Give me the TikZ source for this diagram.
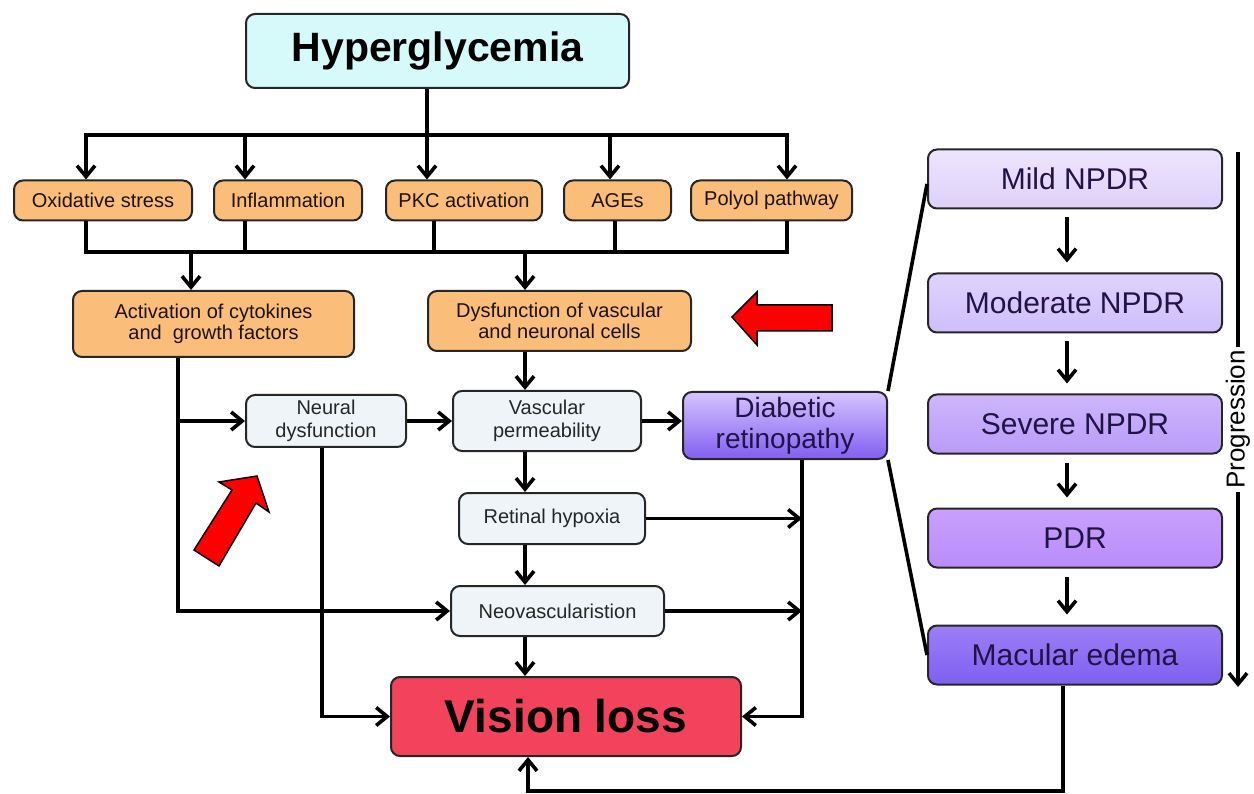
\documentclass[tikz,border=0pt]{standalone}
\usepackage{fontspec}
\setmainfont{Liberation Sans}
\usetikzlibrary{arrows.meta}
\definecolor{orangebox}{RGB}{250,190,122}
\definecolor{cyanbox}{RGB}{214,250,250}
\definecolor{palebox}{RGB}{238,244,247}
\definecolor{visionred}{RGB}{242,66,92}
\definecolor{inkblue}{RGB}{30,20,70}

\begin{document}
\begin{tikzpicture}[x=1pt, y=-1pt, line width=3.6pt, >={Straight Barb[length=11pt,width=18pt]},
  box/.style={draw=black!85, line width=2pt, rounded corners=9pt, align=center, inner sep=2pt},
  topbox/.style={box, fill=cyanbox, minimum width=383pt, minimum height=74pt, font=\fontsize{41}{44}\selectfont\bfseries},
  cause/.style={box, fill=orangebox, minimum height=40pt, text=black!85!brown, font=\fontsize{20}{21.5}\selectfont},
  effect/.style={box, fill=palebox, text=black!85, font=\fontsize{20}{23}\selectfont},
  stagebox/.style={box, minimum width=294pt, minimum height=59pt, text=inkblue, font=\fontsize{30}{32}\selectfont},
  redarrow/.style={fill=red, draw=black, line width=1.5pt, line join=miter}]
\useasboundingbox (0,0) rectangle (1254,794);

\node[topbox] (hyper) at (437.5,51) {Hyperglycemia};

\node[cause, minimum width=178pt] (oxi) at (103,200.5) {Oxidative stress};
\node[cause, minimum width=148pt] (infl) at (288,200.5) {Inflammation};
\node[cause, minimum width=156pt] (pkc) at (464,200.5) {PKC activation};
\node[cause, minimum width=107pt] (ages) at (617.5,200.5) {AGEs};
\node[cause, minimum width=161pt] (polyol) at (771.5,200.5) {Polyol pathway};

\node[cause, minimum width=281pt, minimum height=66pt] (cyto) at (213.5,324) {Activation of cytokines\\and~ growth factors};
\node[cause, minimum width=263pt, minimum height=60pt] (dysf) at (559.5,321) {Dysfunction of vascular\\and neuronal cells};

\node[effect, minimum width=160pt, minimum height=52pt] (neural) at (326,421) {Neural\\dysfunction};
\node[effect, minimum width=188pt, minimum height=60pt] (vasc) at (547,421) {Vascular\\permeability};
\node[box, top color={rgb,255:red,214;green,195;blue,255}, bottom color={rgb,255:red,128;green,95;blue,240},
  minimum width=204pt, minimum height=67pt, text=inkblue, font=\fontsize{28}{31}\selectfont] (diab) at (785,425.5) {Diabetic\\retinopathy};
\node[effect, minimum width=186pt, minimum height=51pt] (hypox) at (552,518.5) {Retinal hypoxia};
\node[effect, minimum width=213pt, minimum height=50pt] (neo) at (557.5,611) {Neovascularistion};
\node[box, fill=visionred, minimum width=350pt, minimum height=79pt, font=\fontsize{46}{48}\selectfont\bfseries] (vision) at (566,716.5) {Vision loss};

\node[stagebox, top color={rgb,255:red,237;green,229;blue,253}, bottom color={rgb,255:red,222;green,208;blue,250}] (mild) at (1075,179) {Mild NPDR};
\node[stagebox, top color={rgb,255:red,223;green,211;blue,252}, bottom color={rgb,255:red,206;green,190;blue,250}] (moder) at (1075,303) {Moderate NPDR};
\node[stagebox, top color={rgb,255:red,206;green,182;blue,252}, bottom color={rgb,255:red,185;green,155;blue,248}] (severe) at (1075,424) {Severe NPDR};
\node[stagebox, top color={rgb,255:red,200;green,160;blue,252}, bottom color={rgb,255:red,185;green,140;blue,250}] (pdr) at (1075,538) {PDR};
\node[stagebox, top color={rgb,255:red,156;green,126;blue,247}, bottom color={rgb,255:red,126;green,96;blue,240}] (macular) at (1075,655) {Macular edema};

\coordinate (split) at (427,135);
\coordinate (bus1) at (191,252);
\coordinate (bus2) at (525,252);
\coordinate (drop) at ([xshift=17pt]diab.south);
\coordinate (low) at (528,791);
\coordinate (ptop) at (1238,152);
\coordinate (pend) at (1238,687);

\draw (hyper.south -| split) -- (split);
\draw[->] (split) -| ([xshift=-17pt]oxi.north);
\draw[->] (split) -| ([xshift=-43pt]infl.north);
\draw[->] (split) -- (pkc.north -| split);
\draw[->] (split) -| ([xshift=-7.5pt]ages.north);
\draw[->] (split) -| ([xshift=15.5pt]polyol.north);

\draw ([xshift=-17pt]oxi.south) |- (bus2);
\draw ([xshift=-43pt]infl.south) |- (bus2);
\draw ([xshift=-30pt]pkc.south) |- (bus2);
\draw ([xshift=-2.5pt]ages.south) |- (bus2);
\draw ([xshift=15.5pt]polyol.south) |- (bus2);
\draw[->] (bus1) -- (cyto.north -| bus1);
\draw[->] (bus2) -- (dysf.north -| bus2);

\draw[->] ([xshift=-35.5pt]cyto.south) |- (neo.west);
\draw[->] ([xshift=-35.5pt]cyto.south |- neural.west) -- (neural.west);
\draw[->] ([xshift=-4pt]neural.south) |- (vision.west);
\draw[->] (drop) |- (vision.east);

\path[->]
(neural) edge (vasc)
(vasc.east) edge (vasc.east -| diab.west)
(dysf.south -| bus2) edge (vasc.north -| bus2)
(vasc.south -| bus2) edge (hypox.north -| bus2)
(hypox.south -| bus2) edge (neo.north -| bus2)
(neo.south -| bus2) edge (vision.north -| bus2)
(hypox.east) edge (hypox.east -| drop)
(neo.east) edge (neo.east -| drop)
;

\draw (diab.north east) -- ([yshift=-5pt]mild.west);
\draw (diab.south east) -- (macular.west);

\foreach \a/\b in {mild/moder, moder/severe, severe/pdr, pdr/macular}
  \draw[->, shorten <=8pt, shorten >=10pt] ([xshift=-8pt]\a.south) -- ([xshift=-8pt]\b.north);

\draw[->] (ptop) -- node[fill=white, rotate=90, inner sep=3pt, font=\fontsize{26}{28}\selectfont] (prog) {Progression} (pend);

\draw[->] ([xshift=-12pt]macular.south) |- (low) -- ([xshift=-38pt]vision.south);

\filldraw[redarrow] (732,317) -- (757,292) -- (757,305) -- (832,305) -- (832,331) -- (757,331) -- (757,345) -- cycle;
\filldraw[redarrow] (257,476) -- (269,512) -- (256,503) -- (219,566) -- (194,550) -- (232,490) -- (219,482) -- cycle;
\end{tikzpicture}
\end{document}
